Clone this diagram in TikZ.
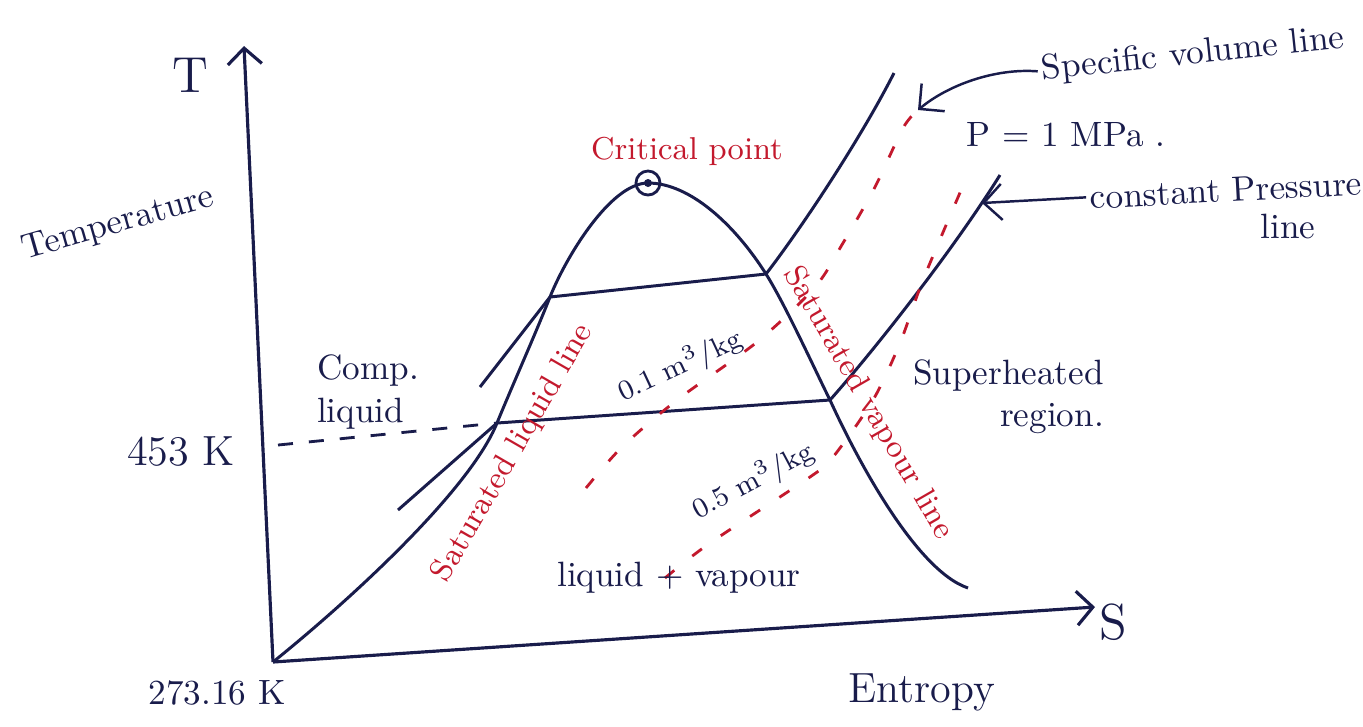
\documentclass[tikz,border=0pt]{standalone}
\usetikzlibrary{arrows.meta}
\definecolor{ink}{RGB}{25,28,75}
\definecolor{redink}{RGB}{195,25,45}
\tikzset{
  curve/.style={ink, line width=0.85pt},
  volline/.style={redink, line width=0.8pt, dash pattern=on 1.2mm off 2.3mm},
  templine/.style={ink, line width=0.8pt, dash pattern=on 1.5mm off 1.6mm},
  axis/.style={ink, line width=0.9pt, -{Straight Barb[length=1.6mm,width=3.4mm]}},
  pointer/.style={ink, line width=0.7pt, -{Straight Barb[length=1.8mm,width=3.6mm]}},
  label/.style={ink, inner sep=1pt},
  redlabel/.style={redink, inner sep=1pt},
}
\begin{document}
\begin{tikzpicture}[x=0.01cm, y=-0.01cm]
    \useasboundingbox (0,0) rectangle (1363,726);

    % Axes
    \coordinate (O) at (273,662);
    \coordinate (Ttip) at (244,46);
    \coordinate (Stip) at (1095,607);
    \draw[axis] (O) -- (Ttip);
    \draw[axis] (O) -- (Stip);
    \node[label, font=\Large] (Tlab) at (190,75) {T};
    \node[label, font=\Large] (Slab) at (1113,622) {S};
    \node[label, rotate=16] (templab) at (118,224) {Temperature};
    \node[label, font=\large] (entlab) at (922,692) {Entropy};
    \node[label, font=\large] (k453) at (181,452) {453 K};
    \node[label] (k273) at (217,693) {273.16 K};

    % Points on the dome
    \coordinate (A2) at (497,423);  % liquid side, lower pressure
    \coordinate (A1) at (550,297);  % liquid side, upper pressure
    \coordinate (CP) at (648,183);
    \coordinate (B1) at (766,274);  % vapour side, upper pressure
    \coordinate (B2) at (830,400);  % vapour side, lower pressure
    \coordinate (D) at (968,588);

    % Saturation dome
    \draw[curve] (O) .. controls (350,600) and (470,490) .. (A2)
                     .. controls (510,391) and (535,335) .. (A1)
                     .. controls (565,259) and (610,183) .. (CP)
                     .. controls (690,183) and (735,225) .. (B1)
                     .. controls (785,304) and (815,370) .. (B2)
                     .. controls (855,455) and (915,570) .. (D);

    % Critical point
    \node[draw=ink, line width=0.8pt, circle, minimum size=0.24cm, inner sep=0pt] (cp) at (CP) {};
    \fill[ink] (cp.center) circle (4);
    \node[redlabel, font=\small] (cplab) at (687,151) {Critical point};

    % Constant pressure lines
    \coordinate (L1) at (480,387);
    \coordinate (L2) at (398,510);
    \coordinate (U1) at (894,73);
    \coordinate (U2) at (1000,175);
    \draw[curve] (L1) -- (A1) -- (B1);
    \draw[curve] (B1) .. controls (800,230) and (860,140) .. (U1);
    \draw[curve] (L2) -- (A2) -- (B2);
    \draw[curve] (B2) .. controls (870,355) and (950,255) .. (U2);

    % 453 K line
    \coordinate (t453) at (278,445);
    \draw[templine] (t453) -- (A2);

    % Specific volume lines
    \coordinate (svtip) at (918,110);
    \draw[volline] plot[smooth] coordinates {(586,488) (622,447) (677,400) (757,342) (815,287) (843,243) (875,187) (903,128) (svtip)};
    \draw[volline] plot[smooth] coordinates {(665,578) (710,543) (810,477) (833,457) (873,400) (900,343) (923,280) (962,188)};
    \node[label, font=\footnotesize, rotate=25] (v01) at (680,366) {0.1 m$^3$/kg};
    \node[label, font=\footnotesize, rotate=28] (v05) at (753,481) {0.5 m$^3$/kg};

    % Saturation line labels
    \node[redlabel, font=\small, rotate=60] (satliq) at (513,453) {Saturated liquid line};
    \node[redlabel, font=\small, rotate=-60] (satvap) at (868,403) {Saturated vapour line};

    % Region labels
    \node[label, align=left] (comp) at (368,392) {Comp.\\liquid};
    \node[label] (wet) at (679,578) {liquid + vapour};
    \node[label, align=right, anchor=east] (sup) at (1108,397) {Superheated\\region.};

    % Notes with pointers
    \node[label, rotate=6] (svlab) at (1193,55) {Specific volume line};
    \node[label] (plab) at (1066,135) {P = 1 MPa .};
    \node[label, rotate=3] (cplinelab) at (1226,190) {constant Pressure};
    \node[label] (cplinelab2) at (1288,226) {line};
    \coordinate (cptip) at (982,203);
    \draw[pointer] (svlab.west) .. controls (995,68) and (948,85) .. (svtip);
    \draw[pointer] (cplinelab.west) -- (cptip);
\end{tikzpicture}
\end{document}
